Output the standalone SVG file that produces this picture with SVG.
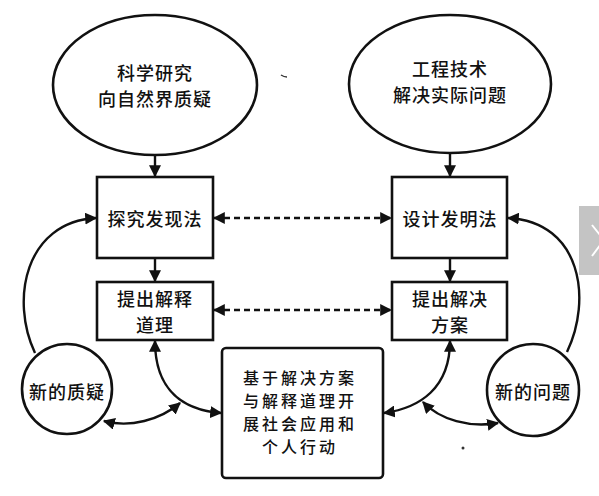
<svg xmlns="http://www.w3.org/2000/svg" width="599" height="496" viewBox="0 0 599 496">
<defs>
<style>
.s{fill:#fff;stroke:#111;stroke-width:2.6}
.c{fill:none;stroke:#111;stroke-width:2.4}
.d{fill:none;stroke:#111;stroke-width:2.4;stroke-dasharray:6 4}
text{font-family:"Noto Sans CJK SC","Noto Sans CJK JP",sans-serif;font-size:18px;fill:#111;text-anchor:middle;dominant-baseline:central;font-weight:500;letter-spacing:1px}
.m{font-size:16px;letter-spacing:3px}
</style>
<marker id="a" viewBox="0 0 10 10" refX="9" refY="5" markerWidth="5" markerHeight="5" orient="auto-start-reverse" markerUnits="strokeWidth">
<path d="M0,0 L10,5 L0,10 Z" fill="#111"/>
</marker>
</defs>
<rect width="599" height="496" fill="#fff"/>
<g id="sci"><ellipse class="s" cx="155" cy="85" rx="102" ry="70"/><text x="155" y="72">科学研究</text><text x="155" y="98">向自然界质疑</text></g>
<g id="eng"><ellipse class="s" cx="450" cy="84" rx="101" ry="69"/><text x="450" y="68">工程技术</text><text x="450" y="94">解决实际问题</text></g>
<g id="b1"><rect class="s" x="97" y="177" width="116" height="81"/><text x="155" y="218">探究发现法</text></g>
<g id="b2"><rect class="s" x="97" y="282" width="116" height="58"/><text x="155" y="298">提出解释</text><text x="155" y="324">道理</text></g>
<g id="b3"><rect class="s" x="392" y="177" width="115" height="81"/><text x="450" y="218">设计发明法</text></g>
<g id="b4"><rect class="s" x="392" y="282" width="115" height="58"/><text x="450" y="298">提出解决</text><text x="450" y="324">方案</text></g>
<g id="center"><rect class="s" x="222" y="348" width="161" height="130" rx="4"/><text class="m" x="300" y="377">基于解决方案</text><text class="m" x="300" y="400">与解释道理开</text><text class="m" x="300" y="423">展社会应用和</text><text class="m" x="300" y="446">个人行动</text></g>
<g id="q"><circle class="s" cx="67" cy="389" r="45"/><text x="67" y="391">新的质疑</text></g>
<g id="p"><circle class="s" cx="533" cy="390" r="46"/><text x="533" y="391">新的问题</text></g>
<g id="connectors">
<path class="c" d="M155,155 L155,176" marker-end="url(#a)"/>
<path class="c" d="M450,153 L450,176" marker-end="url(#a)"/>
<path class="c" d="M155,258 L155,281" marker-end="url(#a)"/>
<path class="c" d="M450,258 L450,281" marker-end="url(#a)"/>
<path class="d" d="M214,218 L391,218" marker-start="url(#a)" marker-end="url(#a)"/>
<path class="d" d="M214,310 L391,310" marker-start="url(#a)" marker-end="url(#a)"/>
<path class="c" d="M35,353 C10,300 25,222 96,218" marker-end="url(#a)"/>
<path class="c" d="M567,352 C592,300 582,222 508,218" marker-end="url(#a)"/>
<path class="c" d="M155,341 C155,392 185,410 221,413" marker-start="url(#a)" marker-end="url(#a)"/>
<path class="c" d="M104,421 C130,428 160,420 180,403" marker-start="url(#a)" marker-end="url(#a)"/>
<path class="c" d="M450,341 C450,388 420,408 384,413" marker-start="url(#a)" marker-end="url(#a)"/>
<path class="c" d="M423,402 C440,420 470,428 498,423" marker-start="url(#a)" marker-end="url(#a)"/>
</g>
<path d="M281,75 Q284,77 287,77" fill="none" stroke="#333" stroke-width="1.5"/>
<circle cx="463" cy="448" r="1.5" fill="#333"/>
<rect x="579" y="206" width="20" height="69" fill="#c4c4c4"/>
<path d="M592,225 L604,240 L592,256" fill="none" stroke="#fff" stroke-width="2"/>
</svg>
